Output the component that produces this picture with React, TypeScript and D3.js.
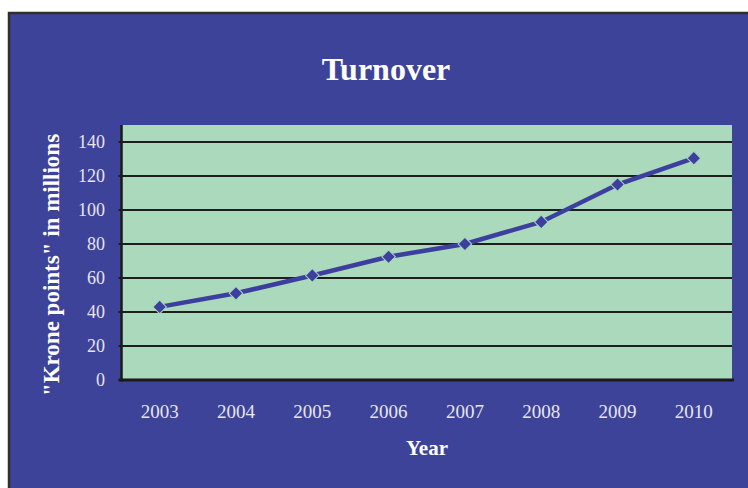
import React from "react";
import * as d3 from "d3";

const years = ["2003", "2004", "2005", "2006", "2007", "2008", "2009", "2010"];
const turnover = [43, 51, 61.5, 72.5, 80, 93, 115, 130.5];
const yTicks = [0, 20, 40, 60, 80, 100, 120, 140];
const title = "Turnover";
const xTitle = "Year";
const yTitle = "\"Krone points\" in millions";

const W = 748;
const H = 488;
const plot = { left: 121.5, right: 732, top: 125, bottom: 380 };
const FONT = "'Liberation Serif', 'Times New Roman', serif";

export default function App() {
  const x = d3.scaleBand<string>().domain(years).range([plot.left, plot.right]);
  const y = d3.scaleLinear().domain([0, 150]).range([plot.bottom, plot.top]);
  const cx = (d: string) => (x(d) as number) + x.bandwidth() / 2;
  const pts = years.map((d, i) => [cx(d), y(turnover[i])] as [number, number]);
  const line = d3.line();
  const marker = d3.symbol().type(d3.symbolSquare).size(92)();

  return (
    <svg
      width={W}
      height={H}
      style={{ position: "absolute", left: 0, top: 0 }}
      xmlns="http://www.w3.org/2000/svg"
    >
      <rect x={0} y={0} width={W} height={H} fill="#ffffff" />
      <rect x={9} y={13} width={W + 20} height={H + 20} fill="#3d4398" stroke="#2e2e2e" strokeWidth={2.5} />
      <text x={386} y={80} textAnchor="middle" fill="#ffffff" fontFamily={FONT} fontWeight="bold" fontSize={32}>
        {title}
      </text>
      <rect x={plot.left} y={plot.top} width={plot.right - plot.left} height={plot.bottom - plot.top} fill="#aad9bb" />
      {yTicks.filter((t) => t > 0).map((t) => (
        <line key={t} x1={plot.left - 3} x2={plot.right} y1={y(t)} y2={y(t)} stroke="#1e1e1e" strokeWidth={2} />
      ))}
      <line x1={plot.left} x2={plot.left} y1={plot.top} y2={plot.bottom + 1.5} stroke="#1a1a1a" strokeWidth={2.5} />
      <line x1={plot.left - 3} x2={plot.right + 2} y1={plot.bottom} y2={plot.bottom} stroke="#1a1a1a" strokeWidth={3} />
      {yTicks.map((t) => (
        <text key={t} x={105} y={y(t) + 6} textAnchor="end" fill="#e6e6f0" fontFamily={FONT} fontSize={18}>
          {t}
        </text>
      ))}
      {years.map((d) => (
        <text key={d} x={cx(d)} y={418} textAnchor="middle" fill="#e6e6f0" fontFamily={FONT} fontSize={19}>
          {d}
        </text>
      ))}
      <text x={427} y={455} textAnchor="middle" fill="#ffffff" fontFamily={FONT} fontWeight="bold" fontSize={21}>
        {xTitle}
      </text>
      <text
        transform={`translate(59, 265) rotate(-90)`}
        textAnchor="middle"
        fill="#ffffff"
        fontFamily={FONT}
        fontWeight="bold"
        fontSize={23}
      >
        {yTitle}
      </text>
      <path d={line(pts) || ""} fill="none" stroke="#3d3f9e" strokeWidth={4.5} />
      {pts.map((p, i) => (
        <path
          key={i}
          d={marker || ""}
          transform={`translate(${p[0]},${p[1]}) rotate(45)`}
          fill="#3d3f9e"
          stroke="#aad9bb"
          strokeWidth={1}
        />
      ))}
    </svg>
  );
}
